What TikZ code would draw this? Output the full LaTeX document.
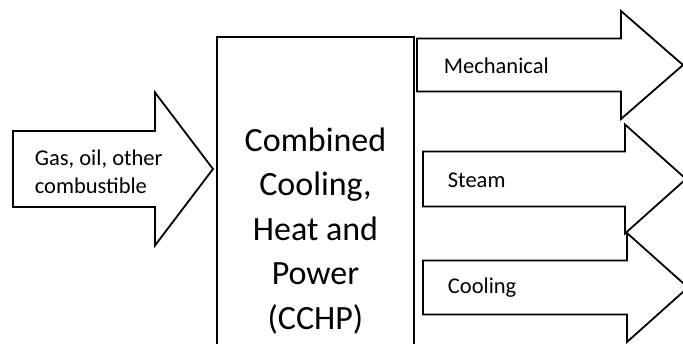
\documentclass[tikz,border=0pt]{standalone}
\usepackage{fontspec}
\setmainfont{Carlito}
\usepackage{tikz}

\begin{document}
\begin{tikzpicture}[x=1pt,y=-1pt,line width=1.8pt,
  lbl/.style={anchor=west,inner sep=0pt,font=\fontsize{22.5}{28.5}\selectfont,align=left}]
% block arrow: {tail x}{head x}{tip x}{centre y}{half body}{half head}
\newcommand{\blockarrow}[6]{\draw[black,fill=white] (#1,#4-#5) -- (#2,#4-#5) -- (#2,#4-#6) -- (#3,#4) -- (#2,#4+#6) -- (#2,#4+#5) -- (#1,#4+#5) -- cycle;}
\useasboundingbox (0,0) rectangle (683,344);
\clip (0,0) rectangle (683,344);
\fill[white] (0,0) rectangle (683,344);
% input
\blockarrow{13}{155}{213}{169}{38}{76.5}
\node[lbl] (fuel) at (34,172) {Gas, oil, other\\combustible};
% plant
\draw[black] (217,37) rectangle (414,360);
\node[align=center,inner sep=0pt,font=\fontsize{34}{44.5}\selectfont] (cchp) at (315.5,231) {Combined\\Cooling,\\Heat and\\Power\\(CCHP)};
% outputs
\blockarrow{417}{621}{683}{65}{26.5}{54}
\node[lbl] (mech) at (443,66) {Mechanical};
\blockarrow{423}{625}{686}{179}{27.5}{54.5}
\node[lbl] (steam) at (447,180) {Steam};
\blockarrow{423}{627}{688}{287.5}{27}{54.5}
\node[lbl] (cool) at (447,288) {Cooling};
\end{tikzpicture}
\end{document}
